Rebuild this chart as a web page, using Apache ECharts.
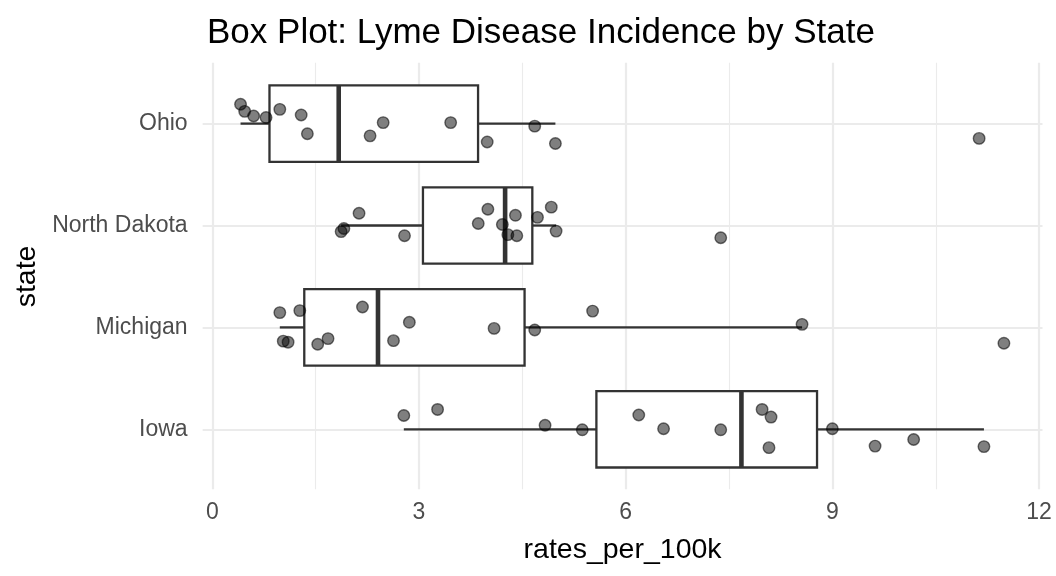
<!DOCTYPE html>
<html>
<head>
<meta charset="utf-8">
<script src="https://cdn.jsdelivr.net/npm/echarts@6/dist/echarts.min.js"></script>
<style>
  html, body { margin: 0; padding: 0; background: #fff; }
  #chart { width: 1056px; height: 576px; }
</style>
</head>
<body>
<div id="chart"></div>
<script>
// Categories (bottom to top)
const states = ['Iowa', 'Michigan', 'North Dakota', 'Ohio'];

// Observed rates per 100k
const iowaRates        = [2.78, 3.27, 4.83, 5.37, 6.19, 6.55, 7.38, 7.98, 8.11, 8.08, 9.00, 9.62, 10.18, 11.20];
const michiganRates    = [0.98, 1.03, 1.10, 1.27, 1.53, 1.68, 2.18, 2.63, 2.86, 4.09, 4.68, 5.52, 8.56, 11.49];
const northDakotaRates = [1.87, 1.91, 2.13, 2.79, 3.86, 4.00, 4.21, 4.29, 4.40, 4.42, 4.72, 4.92, 4.99, 7.38];
const ohioRates        = [0.41, 0.47, 0.60, 0.78, 0.98, 1.29, 1.38, 2.29, 2.48, 3.46, 3.99, 4.68, 4.98, 11.13];

// Vertical jitter of each point (category units, up positive)
const iowaJitter        = [0.135, 0.195, 0.04, -0.005, 0.14, 0.005, -0.005, 0.195, 0.12, -0.18, 0.005, -0.165, -0.10, -0.17];
const michiganJitter    = [0.145, -0.135, -0.145, 0.165, -0.165, -0.11, 0.20, -0.13, 0.05, -0.01, -0.025, 0.16, 0.03, -0.155];
const northDakotaJitter = [-0.06, -0.03, 0.12, -0.10, 0.02, 0.16, 0.01, -0.09, 0.10, -0.10, 0.08, 0.18, -0.055, -0.12];
const ohioJitter        = [0.19, 0.12, 0.075, 0.06, 0.14, 0.085, -0.10, -0.12, 0.01, 0.01, -0.18, -0.025, -0.195, -0.145];

// Axis ticks
const xTicks = [0, 3, 6, 9, 12];

const allRates = [iowaRates, michiganRates, northDakotaRates, ohioRates];
const allJitter = [iowaJitter, michiganJitter, northDakotaJitter, ohioJitter];

function quantile(sorted, p) {
  const h = (sorted.length - 1) * p;
  const lo = Math.floor(h);
  const hi = Math.min(lo + 1, sorted.length - 1);
  return sorted[lo] + (h - lo) * (sorted[hi] - sorted[lo]);
}
function boxStats(vals) {
  const s = vals.slice().sort((a, b) => a - b);
  const q1 = quantile(s, 0.25), med = quantile(s, 0.5), q3 = quantile(s, 0.75);
  const iqr = q3 - q1;
  const lo = Math.min(...s.filter(v => v >= q1 - 1.5 * iqr));
  const hi = Math.max(...s.filter(v => v <= q3 + 1.5 * iqr));
  return [lo, q1, med, q3, hi];
}

const boxData = allRates.map((vals, i) => [i].concat(boxStats(vals)));
const pointData = [];
allRates.forEach((vals, i) => {
  vals.forEach((v, j) => pointData.push([v, i + allJitter[i][j]]));
});

const FONT = 'Liberation Sans, Arial, sans-serif';
const chart = echarts.init(document.getElementById('chart'), null, { renderer: 'canvas' });

chart.setOption({
  animation: false,
  backgroundColor: '#ffffff',
  title: {
    text: 'Box Plot: Lyme Disease Incidence by State',
    left: 202,
    top: 11,
    textStyle: { fontFamily: FONT, fontSize: 35, fontWeight: 'normal', color: '#000000' }
  },
  grid: [
    { left: 202.65, right: 13.5, top: 123.6, bottom: 146.7, outerBoundsMode: 'none', containLabel: false },
    { left: 212.3, right: 16.9, top: 62.7, bottom: 86.7, outerBoundsMode: 'none', containLabel: false }
  ],
  xAxis: [
    {
      gridIndex: 0, type: 'value', min: -0.14, max: 12.05,
      axisLine: { show: false }, axisTick: { show: false }, axisLabel: { show: false },
      splitLine: { show: false },
      name: 'rates_per_100k', nameLocation: 'middle', nameGap: 106,
      nameTextStyle: { fontFamily: FONT, fontSize: 28.5, color: '#000000' }
    },
    {
      gridIndex: 1, type: 'value', min: xTicks[0], max: xTicks[xTicks.length - 1], interval: 3,
      axisLine: { show: false }, axisTick: { show: false },
      axisLabel: { fontFamily: FONT, fontSize: 23, color: '#4D4D4D', margin: 12 },
      splitLine: { show: true, lineStyle: { color: '#EBEBEB', width: 2.2 } },
      minorTick: { show: false, splitNumber: 2 },
      minorSplitLine: { show: true, lineStyle: { color: '#EBEBEB', width: 1.1 } }
    }
  ],
  yAxis: [
    {
      gridIndex: 0, type: 'value', min: 0, max: states.length - 1, interval: 1,
      axisLine: { show: false }, axisTick: { show: false },
      axisLabel: {
        fontFamily: FONT, fontSize: 23, color: '#4D4D4D', margin: 15,
        padding: [8, 0, 0, 0],
        formatter: v => states[Math.round(v)] || ''
      },
      splitLine: { show: true, lineStyle: { color: '#EBEBEB', width: 2.2 } },
      name: 'state', nameLocation: 'middle', nameRotate: 90, nameGap: 160,
      nameTextStyle: { fontFamily: FONT, fontSize: 28.5, color: '#000000' }
    },
    { gridIndex: 1, type: 'value', min: 0, max: 1, show: false }
  ],
  series: [
    {
      type: 'custom',
      xAxisIndex: 0, yAxisIndex: 0,
      clip: false,
      data: boxData,
      encode: { x: [1, 2, 3, 4, 5], y: 0 },
      renderItem: function (params, api) {
        const c = api.value(0);
        const pMin = api.coord([api.value(1), c]);
        const pQ1 = api.coord([api.value(2), c]);
        const pMed = api.coord([api.value(3), c]);
        const pQ3 = api.coord([api.value(4), c]);
        const pMax = api.coord([api.value(5), c]);
        const half = api.size([0, 0.375])[1];
        const stroke = '#333333';
        return {
          type: 'group',
          children: [
            { type: 'line', shape: { x1: pMin[0], y1: pMin[1], x2: pQ1[0], y2: pQ1[1] },
              style: { stroke: stroke, lineWidth: 2.3 } },
            { type: 'line', shape: { x1: pQ3[0], y1: pQ3[1], x2: pMax[0], y2: pMax[1] },
              style: { stroke: stroke, lineWidth: 2.3 } },
            { type: 'rect', shape: { x: pQ1[0], y: pQ1[1] - half, width: pQ3[0] - pQ1[0], height: 2 * half },
              style: { fill: '#ffffff', stroke: stroke, lineWidth: 2.3 } },
            { type: 'line', shape: { x1: pMed[0], y1: pMed[1] - half, x2: pMed[0], y2: pMed[1] + half },
              style: { stroke: stroke, lineWidth: 4.6 } }
          ]
        };
      }
    },
    {
      type: 'scatter',
      xAxisIndex: 0, yAxisIndex: 0,
      clip: false,
      symbol: 'circle',
      symbolSize: 11.5,
      data: pointData,
      itemStyle: { color: 'rgba(0,0,0,0.5)', borderColor: 'rgba(0,0,0,0.55)', borderWidth: 1.4, opacity: 1 },
      emphasis: { disabled: true }
    }
  ]
});
</script>
</body>
</html>
